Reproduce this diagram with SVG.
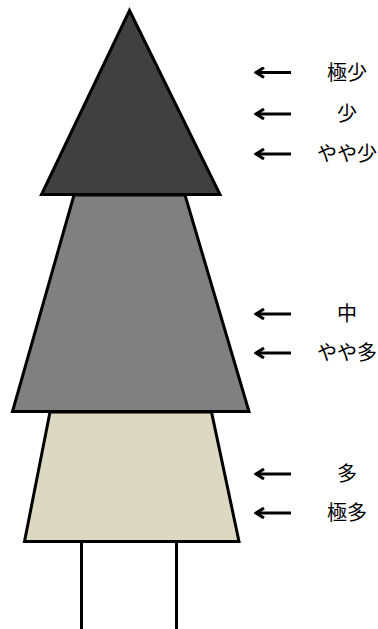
<svg xmlns="http://www.w3.org/2000/svg" width="378" height="629" viewBox="0 0 378 629">
<style>
.s{stroke:#000;stroke-width:3;stroke-linejoin:miter}
.a{stroke:#000;stroke-width:3;fill:none}
.t{font-family:"Noto Sans CJK JP","Noto Sans CJK SC",sans-serif;font-size:20px;text-anchor:middle;fill:#000}
</style>
<defs>
<marker id="ah" markerWidth="12" markerHeight="12" refX="10" refY="6" orient="auto" markerUnits="userSpaceOnUse">
<path d="M2,1 L10,6 L2,11" fill="none" stroke="#000" stroke-width="3"/>
</marker>
</defs>
<g id="legs">
<line class="a" x1="81.5" y1="541" x2="81.5" y2="629"/>
<line class="a" x1="176.5" y1="541" x2="176.5" y2="629"/>
</g>
<g id="bottom">
<polygon class="s" fill="#dcd8c2" points="50,412 211.5,412 239,541.5 24.5,541.5"/>
</g>
<g id="middle">
<polygon class="s" fill="#808080" points="74,195 185,195 249,411.5 12.5,411.5"/>
</g>
<g id="top">
<polygon class="s" fill="#404040" points="129.5,10.5 220,194.5 41.5,194.5"/>
</g>
<g id="connectors">
<line class="a" x1="291" y1="72.5" x2="256" y2="72.5" marker-end="url(#ah)"/>
<line class="a" x1="291" y1="114" x2="256" y2="114" marker-end="url(#ah)"/>
<line class="a" x1="291" y1="154" x2="256" y2="154" marker-end="url(#ah)"/>
<line class="a" x1="291" y1="314" x2="256" y2="314" marker-end="url(#ah)"/>
<line class="a" x1="291" y1="353" x2="256" y2="353" marker-end="url(#ah)"/>
<line class="a" x1="291" y1="474" x2="256" y2="474" marker-end="url(#ah)"/>
<line class="a" x1="291" y1="513" x2="256" y2="513" marker-end="url(#ah)"/>
</g>
<g id="labels">
<text class="t" x="347" y="79.5">極少</text>
<text class="t" x="347" y="120.5">少</text>
<text class="t" x="347" y="160.5">やや少</text>
<text class="t" x="347" y="320.5">中</text>
<text class="t" x="347" y="359.5">やや多</text>
<text class="t" x="347" y="480.5">多</text>
<text class="t" x="347" y="519.5">極多</text>
</g>
</svg>
